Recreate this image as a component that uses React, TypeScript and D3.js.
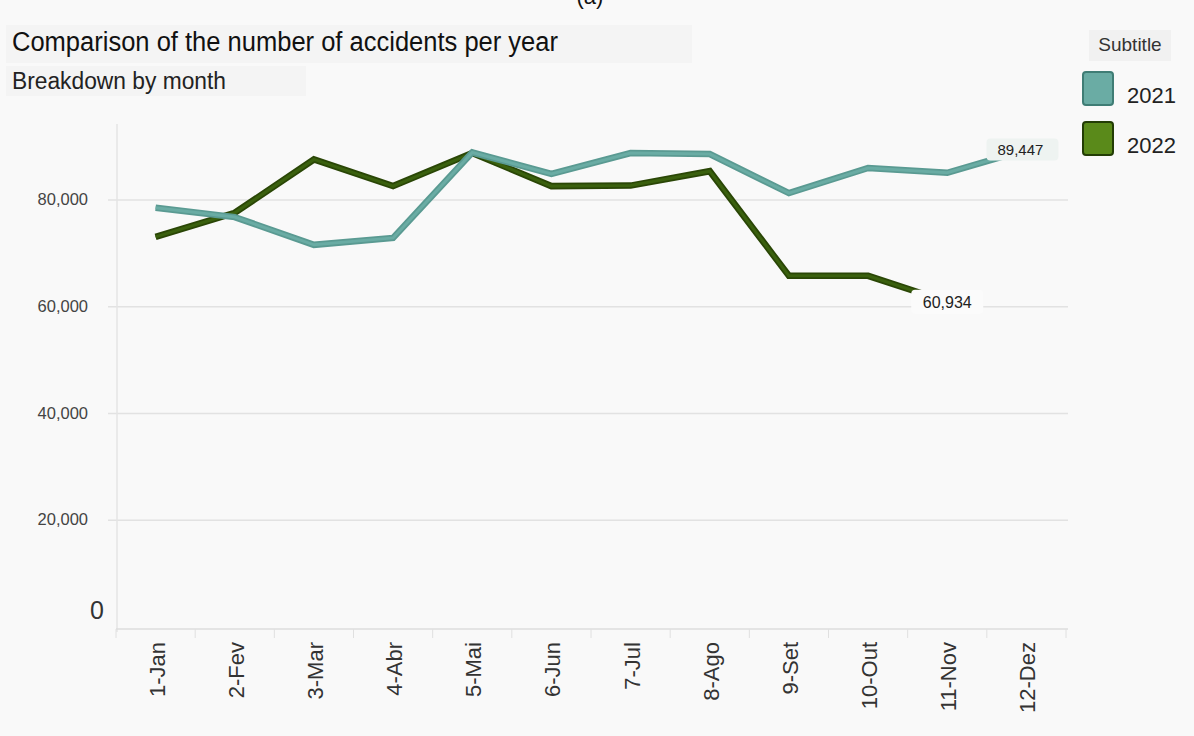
import React from "react";
import * as d3 from "d3";

const months = ["1-Jan", "2-Fev", "3-Mar", "4-Abr", "5-Mai", "6-Jun", "7-Jul", "8-Ago", "9-Set", "10-Out", "11-Nov", "12-Dez"];
const values2021 = [78560, 76800, 71600, 72900, 88900, 84900, 88800, 88600, 81300, 86000, 85100, 89447];
const values2022 = [73100, 77600, 87600, 82600, 88800, 82600, 82700, 85400, 65800, 65800, 60934];
const yTicks = [0, 20000, 40000, 60000, 80000];
const seriesNames = ["2021", "2022"];
const title = "Comparison of the number of accidents per year";
const subtitle = "Breakdown by month";
const legendTitle = "Subtitle";

const W = 1194;
const H = 736;
const FONT = "'Liberation Sans', Arial, sans-serif";

export default function App() {
  const x = d3.scaleBand<string>().domain(months).range([116, 1066]).paddingInner(0).paddingOuter(0);
  const y = d3.scaleLinear().domain([0, 80000]).range([627, 200]);
  const cx = (m: string) => (x(m) as number) + x.bandwidth() / 2;
  const line = d3
    .line<number>()
    .x((_, i) => cx(months[i]))
    .y((v) => y(v));
  const fmt = d3.format(",");

  const last21 = values2021.length - 1;
  const last22 = values2022.length - 1;
  const colors = { c2021: "#5a9a92", c2021in: "#6aaca4", c2022: "#2a4606", c2022in: "#3a600e" };

  return (
    <div style={{ position: "fixed", left: 0, top: 0 }}>
      <svg width={W} height={H} style={{ display: "block", background: "#f9f9f9", fontFamily: FONT }}>
        <text x={590} y={4} fontSize={22} fill="#111" textAnchor="middle">(a)</text>
        <rect x={6} y={25} width={686} height={38} fill="#f4f4f4" />
        <rect x={6} y={66} width={300} height={30} fill="#f4f4f4" />
        <text x={12} y={51} fontSize={27} fill="#111" textLength={546} lengthAdjust="spacingAndGlyphs">{title}</text>
        <text x={12} y={89} fontSize={23} fill="#222" textLength={214} lengthAdjust="spacingAndGlyphs">{subtitle}</text>

        {/* grid */}
        {yTicks.filter((t) => t > 0).map((t) => (
          <line key={t} x1={108} x2={1068} y1={y(t)} y2={y(t)} stroke="#e2e2e2" strokeWidth={1.5} />
        ))}
        <line x1={117} x2={117} y1={124} y2={632} stroke="#e4e4e4" strokeWidth={1.5} />
        <line x1={116} x2={1068} y1={629} y2={629} stroke="#dcdcdc" strokeWidth={1.5} />
        {months.map((m) => (
          <line key={"t" + m} x1={x(m) as number} x2={x(m) as number} y1={629} y2={638} stroke="#e0e0e0" />
        ))}
        <line x1={1066} x2={1066} y1={629} y2={638} stroke="#e0e0e0" />

        {/* y tick labels */}
        {yTicks.map((t) =>
          t === 0 ? (
            <text key={t} x={97} y={619} fontSize={25} fill="#333" textAnchor="middle">0</text>
          ) : (
            <text key={t} x={88} y={y(t) + 5} fontSize={16.5} fill="#444" textAnchor="end">{fmt(t)}</text>
          )
        )}

        {/* x tick labels */}
        {months.map((m) => (
          <text
            key={m}
            transform={`translate(${cx(m) + 9},${642}) rotate(-90)`}
            fontSize={22}
            fill="#333"
            textAnchor="end"
          >
            {m}
          </text>
        ))}

        {/* lines */}
        <path d={line(values2022) || ""} fill="none" stroke={colors.c2022} strokeWidth={6.5} strokeLinejoin="miter" />
        <path d={line(values2022) || ""} fill="none" stroke={colors.c2022in} strokeWidth={3} strokeLinejoin="miter" />
        <path d={line(values2021) || ""} fill="none" stroke={colors.c2021} strokeWidth={6.5} strokeLinejoin="miter" />
        <path d={line(values2021) || ""} fill="none" stroke={colors.c2021in} strokeWidth={3} strokeLinejoin="miter" />

        {/* end labels */}
        <rect x={cx(months[last21]) - 40} y={y(values2021[last21]) - 11} width={72} height={22} rx={4} fill="#eef3f1" />
        <text x={cx(months[last21]) - 6} y={y(values2021[last21]) + 5} fontSize={15} fill="#222" textAnchor="middle">
          {fmt(values2021[last21])}
        </text>
        <rect x={cx(months[last22]) - 36} y={y(values2022[last22]) - 12} width={72} height={24} rx={4} fill="#fbfbfb" />
        <text x={cx(months[last22])} y={y(values2022[last22]) + 6} fontSize={16} fill="#222" textAnchor="middle">
          {fmt(values2022[last22])}
        </text>

        {/* legend */}
        <rect x={1089} y={30} width={82} height={31} fill="#f1f1f1" />
        <text x={1130} y={51} fontSize={19} fill="#333" textAnchor="middle">{legendTitle}</text>
        {seriesNames.map((s, i) => (
          <g key={s} transform={`translate(1083,${72 + i * 50})`}>
            <rect x={0} y={0} width={30} height={33} rx={3}
              fill={i === 0 ? "#6aaca4" : "#5a8a1a"}
              stroke={i === 0 ? "#3f7d75" : "#233d05"} strokeWidth={2} />
            <text x={44} y={31} fontSize={22} fill="#222">{s}</text>
          </g>
        ))}
      </svg>
    </div>
  );
}
